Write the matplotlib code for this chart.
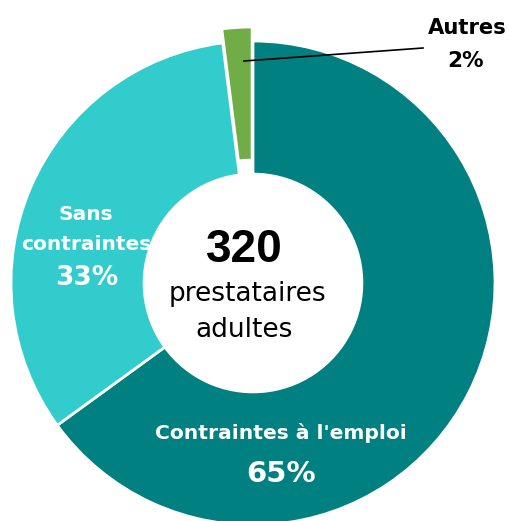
import matplotlib
matplotlib.use("Agg")
import matplotlib.pyplot as plt

labels = ["Contraintes à l'emploi", "Sans contraintes", "Autres"]
values = [65, 33, 2]
pct_labels = ["65%", "33%", "2%"]
colors = ["#008080", "#33CCCC", "#70AD47"]
explode = [0, 0, 0.058]
total = "320"
total_caption = ["prestataires", "adultes"]

W, H = 510, 521
fig = plt.figure(figsize=(W / 100, H / 100), dpi=100)


def px(x, y):
    # pixel (from top-left) -> figure fraction
    return x / W, 1 - y / H


# donut centre and outer radius in pixels
cx, cy, R = 253, 283, 242
L = 1.15
size = 2 * L * R
ax = fig.add_axes([(cx - size / 2) / W, (H - cy - size / 2) / H, size / W, size / H])
ax.pie(values, colors=colors, startangle=90, counterclock=False, explode=explode,
       radius=1, wedgeprops=dict(width=0.55, edgecolor="white", linewidth=2))
ax.set_xlim(-L, L)
ax.set_ylim(-L, L)
ax.set_aspect("equal")
ax.axis("off")

bold = dict(fontweight="bold", ha="center", va="baseline", family="DejaVu Sans")

sans_words = labels[1].split()
fig.text(*px(86, 220), sans_words[0], color="white", fontsize=14.5, **bold)
fig.text(*px(86, 250), sans_words[1], color="white", fontsize=14.5, **bold)
fig.text(*px(87, 285), pct_labels[1], color="white", fontsize=19, **bold)

fig.text(*px(281, 439), labels[0], color="white", fontsize=14.6, **bold)
fig.text(*px(281, 482), pct_labels[0], color="white", fontsize=21, **bold)

fig.text(*px(467, 34), labels[2], color="black", fontsize=15.2, **bold)
fig.text(*px(466, 67), pct_labels[2], color="black", fontsize=15.5, **bold)
fig.add_artist(plt.Line2D([244 / W, 423 / W], [1 - 61 / H, 1 - 48 / H],
                          color="black", linewidth=1.2))

fig.text(*px(244, 262), total, color="black", fontsize=33, fontweight="bold",
         ha="center", va="baseline", family=["Liberation Sans", "DejaVu Sans"])
fig.text(*px(247, 301), total_caption[0], color="black", fontsize=19,
         ha="center", va="baseline", family="DejaVu Sans")
fig.text(*px(244, 337), total_caption[1], color="black", fontsize=19,
         ha="center", va="baseline", family="DejaVu Sans")

fig.savefig("out.png", dpi=100)
